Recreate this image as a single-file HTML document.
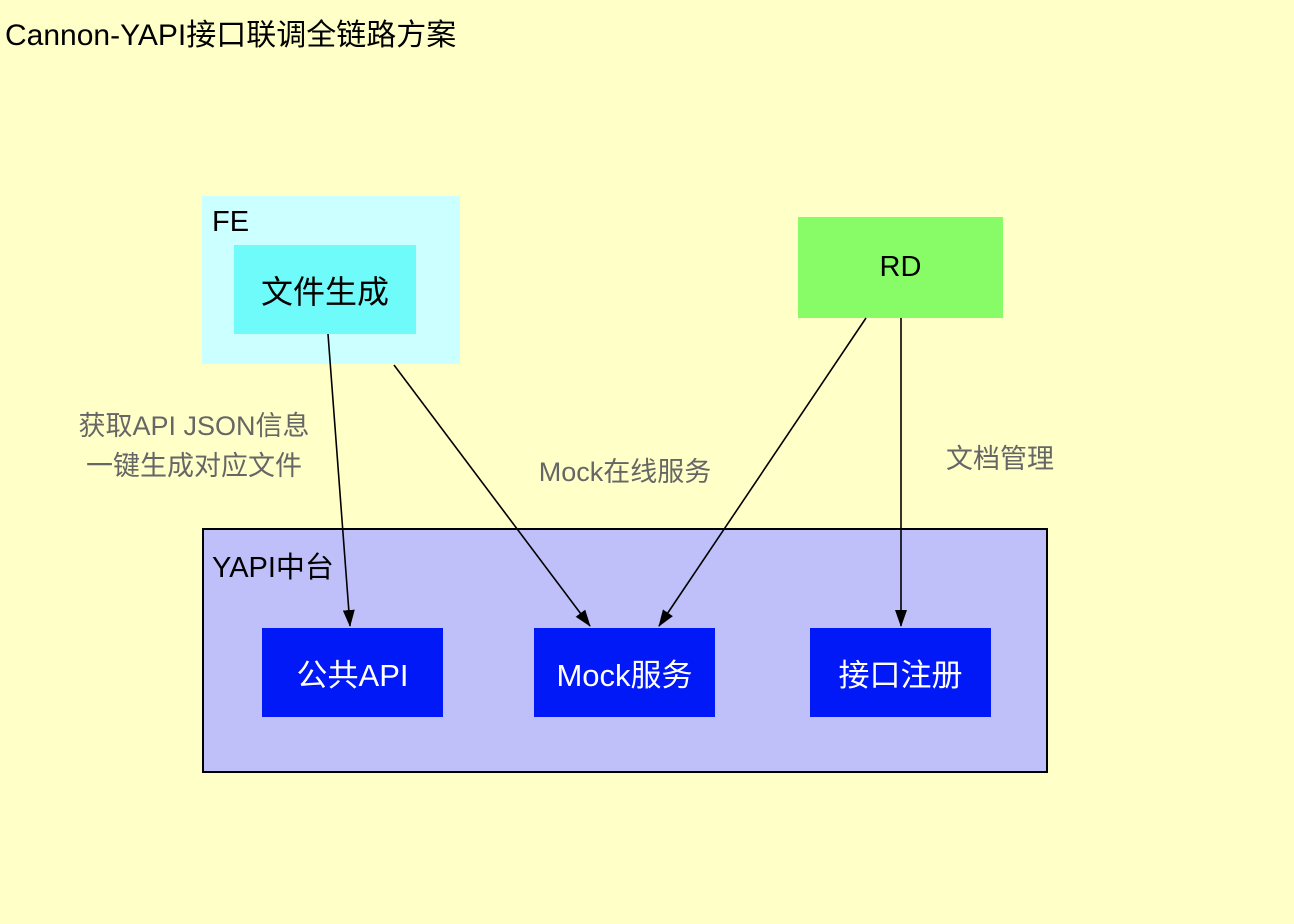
<!DOCTYPE html>
<html><head><meta charset="utf-8"><style>
body{margin:0;width:1294px;height:924px;background:#FFFFC8;position:relative;overflow:hidden;font-family:"Liberation Sans","Noto Sans CJK SC",sans-serif}
div{position:absolute;box-sizing:border-box}
.c{display:flex;align-items:center;justify-content:center}
.b{background:#0019F6;color:#fff;font-size:31px}
.l{color:#666;font-size:27px;text-align:center;line-height:40px}
</style></head><body>
<div style="left:5px;top:10px;font-size:30px;color:#000">Cannon-YAPI接口联调全链路方案</div>
<div style="left:202px;top:196px;width:258px;height:168px;background:#CCFFFF"></div>
<div style="left:212px;top:206px;font-size:29px">FE</div>
<div class="c" style="left:234px;top:245px;width:182px;height:89px;background:#70FBFB;font-size:32px">文件生成</div>
<div class="c" style="left:798px;top:217px;width:205px;height:101px;background:#88FC66;font-size:29px">RD</div>
<div style="left:202px;top:528px;width:846px;height:245px;background:#BFBFF9;border:2px solid #000"></div>
<div style="left:212px;top:544px;font-size:29px">YAPI中台</div>
<div class="c b" style="left:262px;top:628px;width:181px;height:89px">公共API</div>
<div class="c b" style="left:534px;top:628px;width:181px;height:89px">Mock服务</div>
<div class="c b" style="left:810px;top:628px;width:181px;height:89px">接口注册</div>
<div class="l" style="left:44px;top:406px;width:300px">获取API JSON信息<br>一键生成对应文件</div>
<div class="l" style="left:500px;top:452px;width:250px">Mock在线服务</div>
<div class="l" style="left:920px;top:439px;width:160px">文档管理</div>
<svg width="1294" height="924" style="position:absolute;left:0;top:0">
<defs><marker id="a" markerWidth="17" markerHeight="12" refX="16" refY="6" orient="auto" markerUnits="userSpaceOnUse"><path d="M0,0 L17,6 L0,12 z" fill="#000"/></marker></defs>
<g stroke="#000" stroke-width="1.6" marker-end="url(#a)">
<line x1="328" y1="334" x2="350" y2="626"/>
<line x1="394" y1="365" x2="590" y2="626"/>
<line x1="866" y1="318" x2="659" y2="626"/>
<line x1="901" y1="318" x2="901" y2="626"/>
</g></svg>
</body></html>
